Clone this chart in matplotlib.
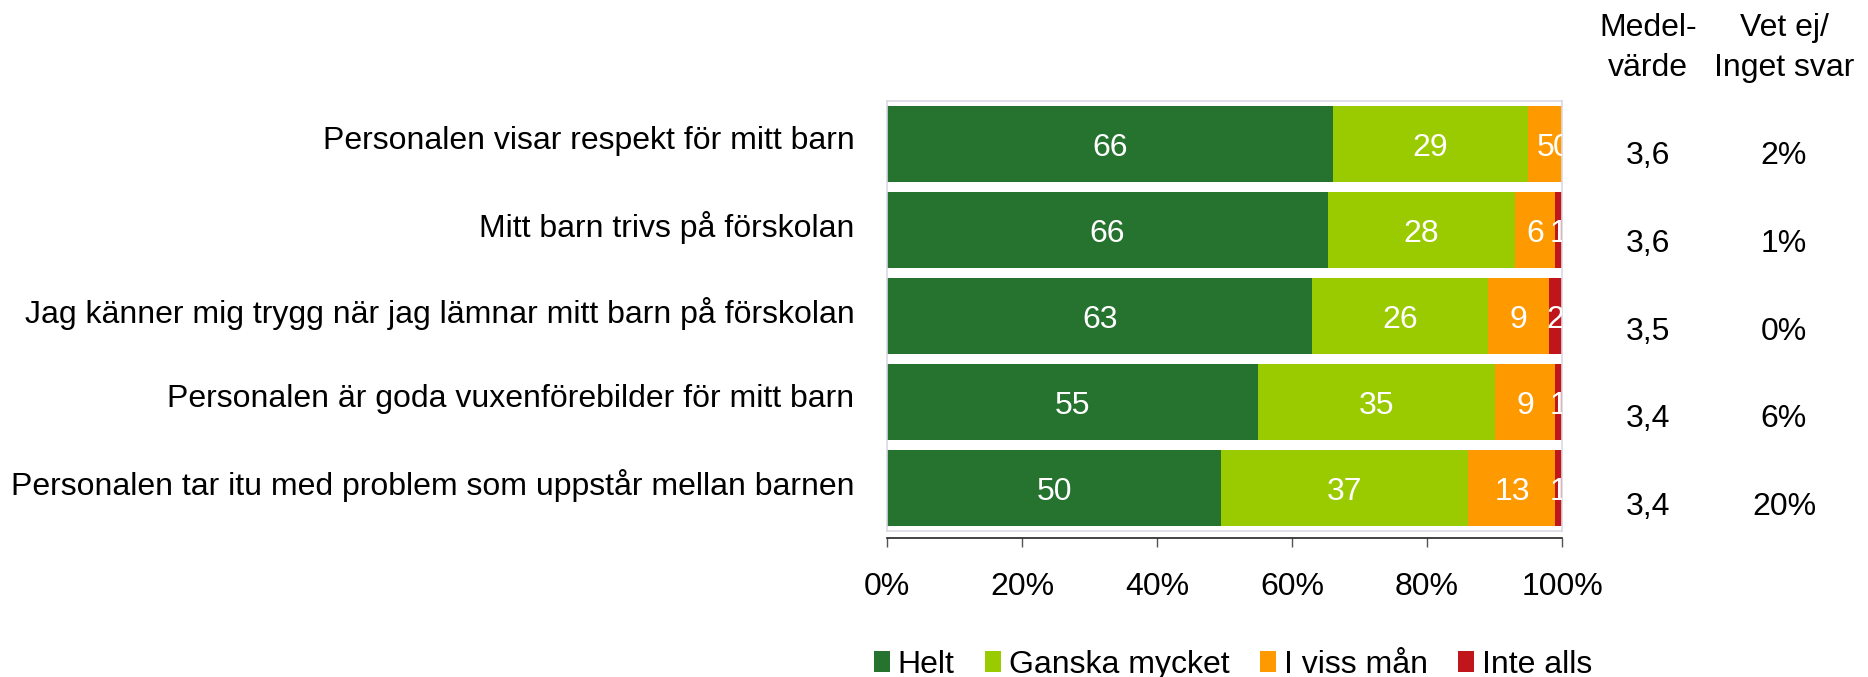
import matplotlib
matplotlib.use("Agg")
import matplotlib.pyplot as plt
import matplotlib.transforms as mtransforms
from matplotlib.patches import Patch
import numpy as np

plt.rcParams['font.family'] = ['Liberation Sans', 'DejaVu Sans']

categories = [
    "Personalen visar respekt för mitt barn",
    "Mitt barn trivs på förskolan",
    "Jag känner mig trygg när jag lämnar mitt barn på förskolan",
    "Personalen är goda vuxenförebilder för mitt barn",
    "Personalen tar itu med problem som uppstår mellan barnen",
]
series_names = ["Helt", "Ganska mycket", "I viss mån", "Inte alls"]
helt = [66, 66, 63, 55, 50]
ganska = [29, 28, 26, 35, 37]
viss = [5, 6, 9, 9, 13]
inte = [0, 1, 2, 1, 1]
medelvarde = ["3,6", "3,6", "3,5", "3,4", "3,4"]
vet_ej = ["2%", "1%", "0%", "6%", "20%"]
xtick_labels = ["0%", "20%", "40%", "60%", "80%", "100%"]

colors = ["#26722F", "#9ACA00", "#FF9900", "#C0161B"]

W, H = 1868, 677
fig = plt.figure(figsize=(W / 100, H / 100), dpi=100)
ax = fig.add_axes([887 / W, 1 - 531 / H, 675 / W, 430 / H])

# bottom axis line sits slightly below the plot-area frame
ax.spines['bottom'].set_position(('outward', 5))
ax.spines['bottom'].set_color('#222222')
ax.spines['bottom'].set_linewidth(1.2)
for s in ['top', 'right', 'left']:
    ax.spines[s].set_color('#D9D9E3')
    ax.spines[s].set_linewidth(1.2)
ax.plot([0, 1], [0, 0], transform=ax.transAxes, color='#D9D9E3', lw=1.2, clip_on=False)

data = np.array([helt, ganska, viss, inte], dtype=float)
totals = data.sum(axis=0)
shares = data / totals * 100
y = np.arange(len(categories))
left = np.zeros(len(categories))
FS = 23
down = mtransforms.ScaledTranslation(0, -4 / 100, fig.dpi_scale_trans)
for k, name in enumerate(series_names):
    ax.barh(y, shares[k], left=left, height=0.88, color=colors[k], label=name)
    for i in range(len(categories)):
        ax.text(left[i] + shares[k][i] / 2, y[i], str(int(data[k][i])),
                ha='center', va='center', color='white', fontsize=FS, clip_on=True,
                transform=ax.transData + down)
    left = left + shares[k]

ax.set_xlim(0, 100)
ax.set_ylim(len(categories) - 0.5, -0.5)
ax.set_yticks(y)
ax.set_yticklabels(categories)
ax.set_xticks(np.linspace(0, 100, 6))
ax.set_xticklabels(xtick_labels)
ax.tick_params(axis='y', left=False, pad=20, labelsize=FS)
ax.tick_params(axis='x', length=6.5, width=1, color='#555555', pad=18, labelsize=FS)

up = mtransforms.ScaledTranslation(0, 6 / 100, fig.dpi_scale_trans)
for lbl in ax.get_yticklabels():
    lbl.set_transform(lbl.get_transform() + up)

# right-hand columns
col_x = [1648 / W, 1784 / W]
fig.text(col_x[0], 1 - 48 / H, "Medel-\nvärde", ha='center', va='center',
         fontsize=FS, linespacing=1.4)
fig.text(col_x[1], 1 - 48 / H, "Vet ej/\nInget svar", ha='center', va='center',
         fontsize=FS, linespacing=1.4)
row_y0, row_step = 156, 87.8
for i in range(len(categories)):
    yy = 1 - (row_y0 + i * row_step) / H
    fig.text(col_x[0], yy, medelvarde[i], ha='center', va='center', fontsize=FS)
    fig.text(col_x[1], yy, vet_ej[i], ha='center', va='center', fontsize=FS)

handles = [Patch(facecolor=c) for c in colors]
fig.legend(handles, series_names, loc='center', bbox_to_anchor=(1233 / W, 1 - 665 / H),
           ncol=4, frameon=False, fontsize=FS, handlelength=0.5, handleheight=0.65,
           handletextpad=0.25, columnspacing=0.95, borderpad=0, borderaxespad=0)

fig.savefig("out.png", dpi=100)
